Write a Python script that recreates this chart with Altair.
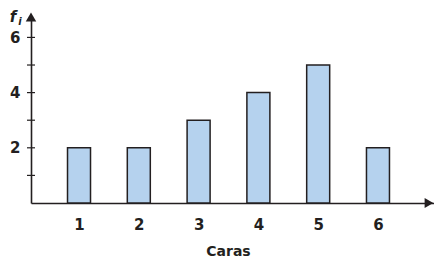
import altair as alt
import pandas as pd

caras = [1, 2, 3, 4, 5, 6]
freq = [2, 2, 3, 4, 5, 2]
y_label_values = [2, 4, 6]
y_tick_values = [1, 2, 3, 4, 5, 6]
x_title = "Caras"

X0, X1 = 0.197, 6.937
XA = 6.853
Y0, Y1 = 0.0, 6.74

bars_df = pd.DataFrame({"cara": caras, "fi": freq})
ticks_df = pd.DataFrame({"t": y_tick_values})

FONT = "DejaVu Sans"
INK = "#231f20"

xscale = alt.Scale(domain=[X0, X1], zero=False, nice=False, padding=0)
yscale = alt.Scale(domain=[Y0, Y1], zero=False, nice=False, padding=0)

base = alt.Chart(bars_df)

bars = base.mark_bar(size=23, color="#b5d2ee", stroke=INK, strokeWidth=1.5).encode(
    x=alt.X("cara:Q", scale=xscale,
            axis=alt.Axis(values=caras, format="d", labelFont=FONT, labelFontSize=15,
                          labelFontWeight="bold", labelColor=INK, ticks=False,
                          labelPadding=14, domainColor=INK, domainWidth=1.6,
                          grid=False, title=x_title, titleFont=FONT, titleFontSize=14,
                          titleFontWeight="bold", titleColor=INK, titlePadding=12,
                          titleX=197, titleAlign="center")),
    y=alt.Y("fi:Q", scale=yscale,
            axis=alt.Axis(values=y_label_values, format="d", labelFont=FONT, labelFontSize=15,
                          labelFontWeight="bold", labelColor=INK, ticks=False,
                          labelPadding=11, domainColor=INK, domainWidth=1.6,
                          grid=False, title=None)),
)

yticks = alt.Chart(ticks_df).mark_rule(color=INK, strokeWidth=1.2).encode(
    y=alt.Y("t:Q", scale=yscale),
    x=alt.value(-4), x2=alt.value(4),
)

arrow_up = alt.Chart(pd.DataFrame({"x": [X0], "y": [Y1]})).mark_point(
    shape="triangle-up", filled=True, color=INK, size=110, opacity=1
).encode(x=alt.X("x:Q", scale=xscale), y=alt.Y("y:Q", scale=yscale))

arrow_right = alt.Chart(pd.DataFrame({"x": [XA], "y": [Y0]})).mark_point(
    shape="triangle-right", filled=True, color=INK, size=100, opacity=1
).encode(x=alt.X("x:Q", scale=xscale), y=alt.Y("y:Q", scale=yscale))

f_text = alt.Chart(pd.DataFrame({"s": ["f"]})).mark_text(
    font=FONT, fontSize=15, fontStyle="italic", fontWeight="bold", color=INK,
    align="center", baseline="alphabetic"
).encode(text="s:N", x=alt.value(-18), y=alt.value(5))

i_text = alt.Chart(pd.DataFrame({"s": ["i"]})).mark_text(
    font=FONT, fontSize=10, fontStyle="italic", fontWeight="bold", color=INK,
    align="center", baseline="alphabetic"
).encode(text="s:N", x=alt.value(-11), y=alt.value(8))

chart = alt.layer(bars, yticks, arrow_up, arrow_right, f_text, i_text).properties(
    width=403, height=186,
    padding={"left": 23, "top": 9, "right": 0, "bottom": 60},
    autosize=alt.AutoSizeParams(type="none"),
).configure_view(stroke=None)

chart.save("out.html", embed_options={"renderer": "svg", "actions": False})
